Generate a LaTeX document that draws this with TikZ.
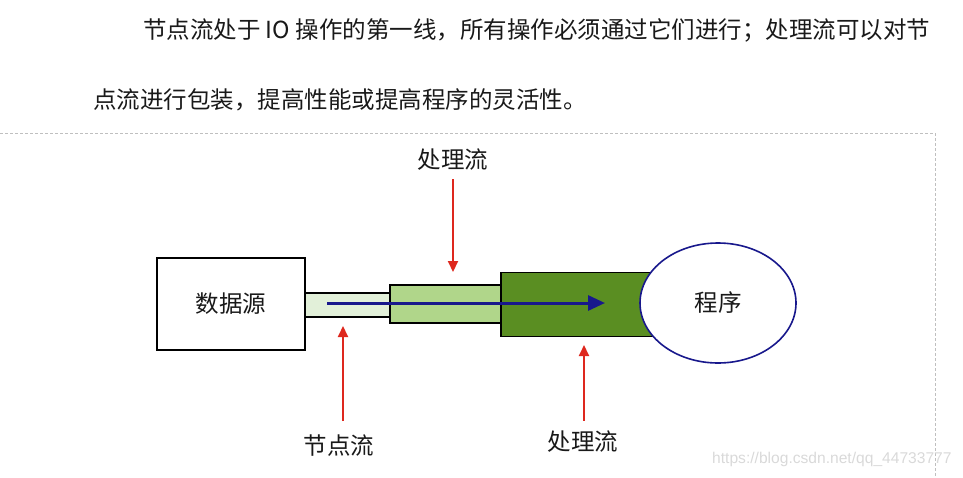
\documentclass[tikz,border=0pt]{standalone}
\usepackage{fontspec}
\setmainfont{Noto Sans CJK SC}
\newfontfamily\urlfont{Liberation Sans}
\usetikzlibrary{arrows.meta,shapes.geometric,positioning}
\definecolor{paleGreen}{RGB}{226,240,217}
\definecolor{midGreen}{RGB}{176,214,138}
\definecolor{darkGreen}{RGB}{90,142,34}
\definecolor{navyBlue}{RGB}{24,24,140}
\definecolor{pointRed}{RGB}{222,40,30}
\begin{document}
\begin{tikzpicture}[x=1pt,y=-1pt,>=Triangle,font=\fontsize{23.5}{28}\selectfont,
  txt/.style={text=black!90,inner sep=0pt},
  pipe/.style={draw=black,line width=1.4pt,inner sep=0pt},
  flow/.style={->,line width=3pt,navyBlue,arrows={-Triangle[length=17pt,width=15pt]}},
  hint/.style={->,line width=2pt,pointRed,arrows={-Triangle[length=11pt,width=10pt]}}]
\useasboundingbox (0,0) rectangle (963,477);
\node[txt,anchor=west] (line1) at (143,30) {节点流处于 IO 操作的第一线，所有操作必须通过它们进行；处理流可以对节};
\node[txt,anchor=west] (line2) at (93,100) {点流进行包装，提高性能或提高程序的灵活性。};
\draw[black!25,line width=0.8pt,dash pattern=on 3pt off 2pt] (0,133) -- (935,133) -- (935,477);
\node[pipe,fill=darkGreen,minimum width=180pt,minimum height=64pt] (bigPipe) at (591,304.5) {};
\node[pipe,fill=midGreen,minimum width=111pt,minimum height=38pt] (midPipe) at (445.5,304) {};
\node[pipe,fill=paleGreen,minimum width=85pt,minimum height=24pt] (thinPipe) at (347.5,305) {};
\node[pipe,fill=white,minimum width=148pt,minimum height=92pt,txt] (source) at (231,304) {数据源};
\node[ellipse,draw=navyBlue,line width=1.6pt,fill=white,minimum width=156pt,minimum height=120pt,
      inner sep=0pt,text=black!90] (program) at (718,303) {程序};
\coordinate (flowStart) at (327,303);
\coordinate (flowEnd) at (605,303);
\draw[flow] (flowStart) -- (flowEnd);
\node[txt] (procTop) at (453,160) {处理流};
\coordinate (procTopTip) at (453,272);
\draw[hint,shorten <=8pt] (procTop) -- (procTopTip);
\node[txt] (nodeLbl) at (339,446) {节点流};
\coordinate (nodeTip) at (343,326);
\draw[hint,shorten <=14pt] (nodeLbl.north -| nodeTip) -- (nodeTip);
\node[txt] (procBot) at (583,442) {处理流};
\coordinate (procBotTip) at (584,345);
\draw[hint,shorten <=10pt] (procBot.north -| procBotTip) -- (procBotTip);
\node[text=black!15,inner sep=0pt,anchor=west,font=\urlfont\fontsize{15.6}{18}\selectfont] (mark) at (712,459) {https://blog.csdn.net/qq\_44733777};
\end{tikzpicture}
\end{document}
